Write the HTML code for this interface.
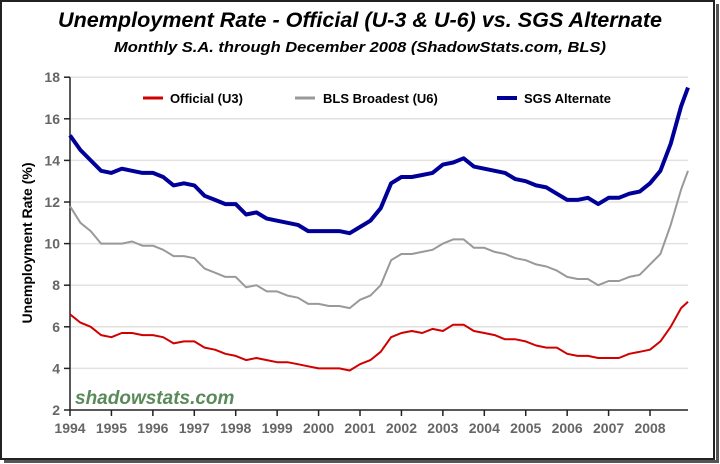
<!DOCTYPE html>
<html><head><meta charset="utf-8"><style>
body{margin:0;background:#fff}
svg{display:block;font-family:"Liberation Sans",sans-serif}
</style></head><body>
<svg id="chart" width="720" height="464" viewBox="0 0 720 464">
<rect x="1" y="1" width="713" height="458" fill="#fff" stroke="#222" stroke-width="2"/>
<rect x="716" y="4" width="3" height="458" fill="#555"/>
<rect x="4" y="460" width="715" height="3" fill="#555"/>
<text x="360" y="27" text-anchor="middle" font-size="21" font-weight="bold" font-style="italic" textLength="604" lengthAdjust="spacingAndGlyphs">Unemployment Rate - Official (U-3 &amp; U-6) vs. SGS Alternate</text>
<text x="360" y="52" text-anchor="middle" font-size="15" font-weight="bold" font-style="italic" textLength="492" lengthAdjust="spacingAndGlyphs">Monthly S.A. through December 2008 (ShadowStats.com, BLS)</text>
<g id="grid"></g><g id="axes"></g><g id="series"></g>
<text transform="translate(32,243) rotate(-90)" text-anchor="middle" font-size="14" font-weight="bold">Unemployment Rate (%)</text>
<text x="75" y="404" font-size="19" font-weight="bold" font-style="italic" fill="#5a8a5a">shadowstats.com</text>
<g>
<line x1="143" y1="98" x2="163" y2="98" stroke="#d00000" stroke-width="3"/>
<text x="170" y="103" font-size="13" font-weight="bold">Official (U3)</text>
<line x1="295" y1="98" x2="315" y2="98" stroke="#999" stroke-width="3"/>
<text x="323" y="103" font-size="13" font-weight="bold">BLS Broadest (U6)</text>
<line x1="497" y1="98" x2="517" y2="98" stroke="#000099" stroke-width="4"/>
<text x="524" y="103" font-size="13" font-weight="bold">SGS Alternate</text>
</g>
</svg>
<script>
const yTicks=[2,4,6,8,10,12,14,16,18];
const xTicks=[1994,1995,1996,1997,1998,1999,2000,2001,2002,2003,2004,2005,2006,2007,2008];
const u3=[6.6,6.2,6.0,5.6,5.5,5.7,5.7,5.6,5.6,5.5,5.2,5.3,5.3,5.0,4.9,4.7,4.6,4.4,4.5,4.4,4.3,4.3,4.2,4.1,4.0,4.0,4.0,3.9,4.2,4.4,4.8,5.5,5.7,5.8,5.7,5.9,5.8,6.1,6.1,5.8,5.7,5.6,5.4,5.4,5.3,5.1,5.0,5.0,4.7,4.6,4.6,4.5,4.5,4.5,4.7,4.8,4.9,5.3,6.0,6.9,7.2];
const u6=[11.8,11.0,10.6,10.0,10.0,10.0,10.1,9.9,9.9,9.7,9.4,9.4,9.3,8.8,8.6,8.4,8.4,7.9,8.0,7.7,7.7,7.5,7.4,7.1,7.1,7.0,7.0,6.9,7.3,7.5,8.0,9.2,9.5,9.5,9.6,9.7,10.0,10.2,10.2,9.8,9.8,9.6,9.5,9.3,9.2,9.0,8.9,8.7,8.4,8.3,8.3,8.0,8.2,8.2,8.4,8.5,9.0,9.5,10.9,12.6,13.5];
const sgs=[15.2,14.5,14.0,13.5,13.4,13.6,13.5,13.4,13.4,13.2,12.8,12.9,12.8,12.3,12.1,11.9,11.9,11.4,11.5,11.2,11.1,11.0,10.9,10.6,10.6,10.6,10.6,10.5,10.8,11.1,11.7,12.9,13.2,13.2,13.3,13.4,13.8,13.9,14.1,13.7,13.6,13.5,13.4,13.1,13.0,12.8,12.7,12.4,12.1,12.1,12.2,11.9,12.2,12.2,12.4,12.5,12.9,13.5,14.8,16.6,17.5];
const NS='http://www.w3.org/2000/svg';
const X=t=>70+(t-1994)*41.43, Y=v=>410-(v-2)*20.8;
const tOf=i=>Math.min(1994+i*0.25,1994+11/12+14);
const grid=document.getElementById('grid'),axes=document.getElementById('axes'),ser=document.getElementById('series');
function mk(tag,at,parent){const e=document.createElementNS(NS,tag);for(const k in at)e.setAttribute(k,at[k]);parent.appendChild(e);return e;}
yTicks.forEach(v=>{
 if(v>2){const g=mk('line',{x1:70,x2:688,y1:Y(v),y2:Y(v),stroke:'#e2e2e2','stroke-width':1.5},grid);
 
 }
 const tk=mk('line',{x1:64,x2:70,y1:Y(v),y2:Y(v),stroke:'#222','stroke-width':1.5},axes);
 
 
 const t=mk('text',{x:60,y:Y(v)+5,'text-anchor':'end','font-size':14,'font-weight':'bold',fill:'#666'},axes);
 t.textContent=v;
 
 
});
xTicks.forEach(v=>{
 const tk=mk('line',{x1:X(v),x2:X(v),y1:410,y2:416,stroke:'#222','stroke-width':1.5},axes);
 
 
 const t=mk('text',{x:X(v),y:433,'text-anchor':'middle','font-size':14,'font-weight':'bold',fill:'#666'},axes);
 t.textContent=v;
 
 
});
const ya=mk('line',{x1:70,x2:70,y1:Y(18),y2:410,stroke:'#222','stroke-width':1.5},axes);


const xa=mk('line',{x1:70,x2:688,y1:410,y2:410,stroke:'#222','stroke-width':1.5},axes);


function line(arr,color,w,name){
 const d=arr.map((v,i)=>(i?'L':'M')+X(tOf(i)).toFixed(1)+','+Y(v).toFixed(1)).join('');
 const p=mk('path',{d:d,fill:'none',stroke:color,'stroke-width':w,'stroke-linejoin':'round'},ser);
 
 
}
line(u6,'#999',2,'u6-line');
line(u3,'#d00000',2,'u3-line');
line(sgs,'#000099',4,'sgs-line');
</script>
</body></html>
